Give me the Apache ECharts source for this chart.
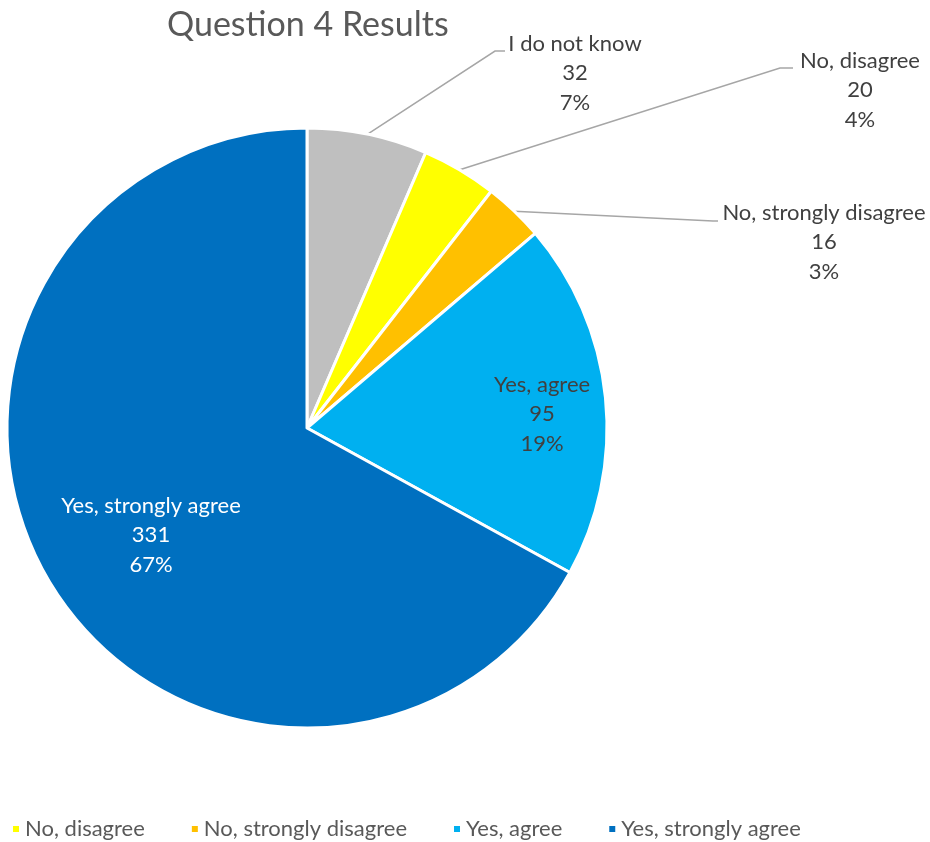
<!DOCTYPE html>
<html>
<head>
<meta charset="utf-8">
<script src="https://cdn.jsdelivr.net/npm/echarts@6/dist/echarts.min.js"></script>
<style>
  html, body { margin: 0; padding: 0; background: #fff; }
  #chart { width: 930px; height: 842px; }
</style>
</head>
<body>
<div id="chart"></div>
<script>
const categories = ['I do not know', 'No, disagree', 'No, strongly disagree', 'Yes, agree', 'Yes, strongly agree']
const counts = [32, 20, 16, 95, 331]
const colors = ['#BFBFBF', '#FFFF00', '#FFC000', '#00B0F0', '#0070C0']
const legendItems = ['No, disagree', 'No, strongly disagree', 'Yes, agree', 'Yes, strongly agree']

// where excel put each data label: [centre x, top y], plus leader line bend/end
const labelSpots = [
  { x: 575, y: 29, line: [[495, 51], [505, 51]] },
  { x: 860, y: 46, line: [[780, 68], [793, 68]] },
  { x: 824, y: 198, line: [[713, 221], [718, 221]] },
  { x: 542, y: 370 },
  { x: 151, y: 491 }
]

const chart = echarts.init(document.getElementById('chart'))

const font = 'Lato, "Open Sans", sans-serif'

chart.setOption({
  animation: false,
  title: {
    text: 'Question 4 Results',
    left: 162,
    top: 3,
    textStyle: { fontFamily: font, fontSize: 34, fontWeight: 'normal', color: '#595959' }
  },
  legend: {
    data: legendItems,
    left: 11,
    top: 818,
    icon: 'rect',
    itemWidth: 8,
    itemHeight: 8,
    itemGap: 45,
    padding: 0,
    textStyle: { fontFamily: font, fontSize: 22, color: '#595959' }
  },
  series: [{
    type: 'pie',
    center: [307, 428],
    radius: 300,
    startAngle: 90,
    clockwise: true,
    percentPrecision: 0,
    itemStyle: { borderColor: '#fff', borderWidth: 3 },
    label: {
      formatter: '{b}\n{c}\n{d}%',
      fontFamily: font,
      fontSize: 22,
      lineHeight: 29.5,
      color: '#404040',
      align: 'center'
    },
    labelLine: {
      lineStyle: { color: '#A6A6A6', width: 1.5 }
    },
    labelLayout: function (params) {
      const spot = labelSpots[params.dataIndex]
      const out = { x: spot.x, y: spot.y, align: 'center', verticalAlign: 'top' }
      if (spot.line && params.labelLinePoints) {
        out.labelLinePoints = [params.labelLinePoints[0], spot.line[0], spot.line[1]]
      }
      return out
    },
    data: categories.map((name, i) => ({
      name: name,
      value: counts[i],
      itemStyle: { color: colors[i] },
      label: i < 3 ? { position: 'outside' } : { position: 'inside', color: i === 4 ? '#fff' : '#404040' },
      labelLine: { show: i < 3 }
    }))
  }]
})
</script>
</body>
</html>
